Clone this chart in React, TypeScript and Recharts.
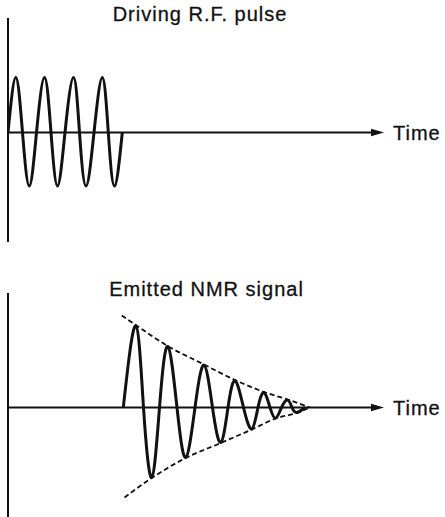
import { LineChart, Line, XAxis, YAxis, ReferenceLine } from 'recharts';

// horizontal positions are time along the axis, vertical values are signal amplitude
const pulseTime = [0, 7.8, 14.5, 21.3, 28.5, 36.5, 43, 49.5, 57, 65.5, 71.5, 78, 86, 94.3, 100.3, 106.5, 114.3];
const pulseAmp = [0, 55, 0, -53.5, 0, 55, 0, -53.5, 0, 55, 0, -53.5, 0, 55, 0, -53.5, 0];

const signalTime = [115.3, 127.7, 135.5, 143.7, 151.5, 159.7, 169, 177.7, 187, 196, 204.5, 212.7, 220, 227, 235.5, 243.7, 250, 256, 262, 267.7, 273.5, 279.7, 284, 288.7, 297];
const signalAmp = [0, 81.7, 0, -70, 0, 61, 0, -50, 0, 42.4, 0, -35, 0, 26.7, 0, -21.6, 0, 15, 0, -10.6, 0, 7.4, 0, -5, 0];

const upperEnvTime = [113.7, 127.7, 159.7, 196, 227, 256, 279.7, 302];
const upperEnvAmp = [92, 82.5, 61.5, 43, 27.5, 15.5, 8, 0];
const lowerEnvTime = [116.5, 143.7, 177.7, 212.7, 243.7, 267.7, 288.7, 302];
const lowerEnvAmp = [-90, -70.5, -50.5, -35.5, -22, -11, -5.5, 0];

const titles = ['Driving R.F. pulse', 'Emitted NMR signal'];
const axisLabel = 'Time';

const toRows = (t: number[], v: number[]) => t.map((x, i) => ({ t: x, v: v[i] }));

const INK = '#111';
const FONT = '"Liberation Sans", Arial, sans-serif';

function ArrowLabel(props: any) {
  const { viewBox } = props;
  if (!viewBox) return null;
  const x2 = viewBox.x + viewBox.width;
  const y = viewBox.y;
  return (
    <g>
      <polygon points={`${x2 - 7},${y - 3.8} ${x2 + 6},${y} ${x2 - 7},${y + 3.8}`} fill={INK} />
      <text
        x={x2 + 15}
        y={y + 7.2}
        fill={INK}
        stroke={INK}
        strokeWidth={0.3}
        fontSize={20}
        letterSpacing={1}
        fontFamily={FONT}
      >
        {axisLabel}
      </text>
    </g>
  );
}

type Series = { rows: { t: number; v: number }[]; dashed?: boolean };

function Panel({ top, title, titleCenter, series }: { top: number; title: string; titleCenter: number; series: Series[] }) {
  return (
    <div style={{ position: 'absolute', left: 0, top, width: 445, height: 242 }}>
      <div
        style={{
          position: 'absolute',
          left: titleCenter - 150,
          top: 3.8,
          width: 300,
          textAlign: 'center',
          fontFamily: FONT,
          fontSize: 20,
          lineHeight: '20px',
          letterSpacing: 1,
          color: INK,
          WebkitTextStroke: `0.3px ${INK}`,
        }}
      >
        {title}
      </div>
      <LineChart width={445} height={242} margin={{ top: 18, right: 67, left: 8, bottom: 0 }}>
        <XAxis dataKey="t" type="number" domain={[0, 370]} hide allowDataOverflow />
        <YAxis type="number" domain={[-109.5, 114.5]} hide allowDataOverflow />
        <ReferenceLine x={0} stroke={INK} strokeWidth={2} ifOverflow="visible" />
        <ReferenceLine y={0} stroke={INK} strokeWidth={2} ifOverflow="visible" label={<ArrowLabel />} />
        {series.map((s, i) => (
          <Line
            key={i}
            data={s.rows}
            dataKey="v"
            type={s.dashed ? 'monotone' : 'natural'}
            stroke={INK}
            strokeWidth={s.dashed ? 1.8 : 3}
            strokeDasharray={s.dashed ? '5 3' : undefined}
            dot={false}
            activeDot={false}
            isAnimationActive={false}
          />
        ))}
      </LineChart>
    </div>
  );
}

export default function App() {
  return (
    <div style={{ position: 'absolute', left: 0, top: 0, width: 445, height: 517, background: '#fff' }}>
      <Panel top={0} title={titles[0]} titleCenter={200} series={[{ rows: toRows(pulseTime, pulseAmp) }]} />
      <Panel
        top={275}
        title={titles[1]}
        titleCenter={206.5}
        series={[
          { rows: toRows(upperEnvTime, upperEnvAmp), dashed: true },
          { rows: toRows(lowerEnvTime, lowerEnvAmp), dashed: true },
          { rows: toRows(signalTime, signalAmp) },
        ]}
      />
    </div>
  );
}
